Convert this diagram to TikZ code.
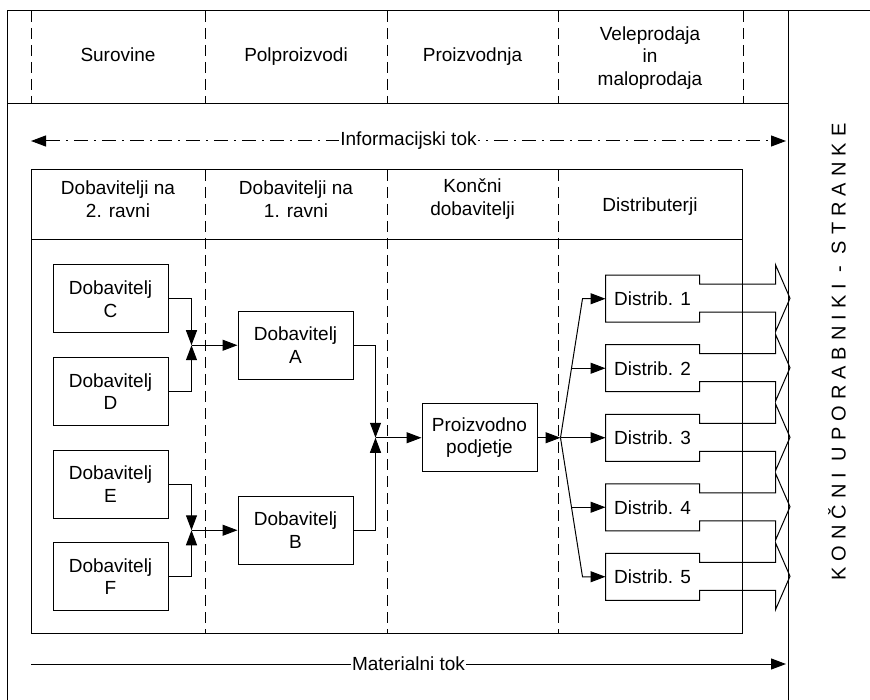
\documentclass[tikz,border=0pt]{standalone}
\usepackage{fontspec}
\setmainfont{Liberation Sans}
\newfontfamily\spacedfont[LetterSpace=30]{Liberation Sans}
\usetikzlibrary{arrows.meta,calc,positioning}

\begin{document}
\begin{tikzpicture}[x=1pt,y=-1pt,line width=1pt,node distance=92.5pt,
    >={Triangle[length=15pt,width=11pt]},
    font=\fontsize{19}{22.5}\selectfont,
    box/.style={draw,minimum width=115pt,minimum height=68pt,align=center,inner sep=2pt},
    dbox/.style={minimum width=93pt,minimum height=46pt,inner sep=2pt},
    oneline/.style={text height=14pt,text depth=4pt},
    divider/.style={dash pattern=on 11pt off 6pt},
    infoline/.style={dash pattern=on 14pt off 6pt on 2pt off 6pt}]

        \useasboundingbox (0,0) rectangle (870,700);

        \draw (7,700) -- (7,11) -- (870,11);
        \draw (788,11) -- (788,700);
        \draw (7,104) -- (788,104);
        \foreach \x in {31,205,387,558,743}
            \draw[divider] (\x,11) -- (\x,104);

        \node[oneline] (H1) at (118,57)   {Surovine};
        \node[oneline] (H2) at (296,57)   {Polproizvodi};
        \node[oneline] (H3) at (472.5,57) {Proizvodnja};
        \node[align=center] (H4) at (650,58) {Veleprodaja\\in\\maloprodaja};

        \coordinate (IL) at (31,141);
        \coordinate (IR) at (786,141);
        \draw[infoline,<->] (IL) -- node[fill=white,inner sep=1pt] (IT) {Informacijski tok} (IR);

        \draw (31,170) rectangle (742,633);
        \draw (31,240) -- (742,240);
        \foreach \x in {205,387,558}
            \draw[divider] (\x,170) -- (\x,633);

        \node[align=center] (K1) at (118,199)   {Dobavitelji na\\2. ravni};
        \node[align=center] (K2) at (296,199)   {Dobavitelji na\\1. ravni};
        \node[align=center] (K3) at (472.5,199) {Končni\\dobavitelji};
        \node[oneline] (K4) at (650,207) {Distributerji};

        \coordinate (ML) at (31,664);
        \coordinate (MR) at (786,664);
        \draw[->] (ML) -- node[fill=white,inner sep=1pt] (MT) {Materialni tok} (MR);

        \node[rotate=90,font=\spacedfont\fontsize{20}{22}\selectfont] (KU) at (837,352)
            {KONČNI UPORABNIKI - STRANKE};

        \node[box] (DC) at (110.5,299) {Dobavitelj\\C};
        \node[box] (DD) [below of=DC]   {Dobavitelj\\D};
        \node[box] (DE) [below of=DD]   {Dobavitelj\\E};
        \node[box] (DF) [below of=DE]   {Dobavitelj\\F};

        \coordinate (J1) at ($(DC.east)!.5!(DD.east)+(23,0)$);
        \coordinate (J2) at ($(DE.east)!.5!(DF.east)+(23,0)$);

        \node[box] (DA) [right=46pt of J1] {Dobavitelj\\A};
        \node[box] (DB) [right=46pt of J2] {Dobavitelj\\B};

        \coordinate (J3) at ($(DA.east)!.5!(DB.east)+(22,0)$);
        \node[box] (PP) [right=46pt of J3] {Proizvodno\\podjetje};
        \coordinate[right=23pt of PP] (SP);

        \node[dbox] (DS3) [right=45pt of SP] {Distrib. 3};
        \node[dbox] (DS2) [above of=DS3,node distance=69.5pt] {Distrib. 2};
        \node[dbox] (DS1) [above of=DS2,node distance=69.5pt] {Distrib. 1};
        \node[dbox] (DS4) [below of=DS3,node distance=69.5pt] {Distrib. 4};
        \node[dbox] (DS5) [below of=DS4,node distance=69.5pt] {Distrib. 5};

        \foreach \i in {1,...,5}
            \draw (DS\i.north west) -- (DS\i.north east) -- ++(0,9) -- ++(76,0)
                -- ++(0,-19.5) -- ++(14.5,33.5) -- ++(-14.5,33.5) -- ++(0,-19.5)
                -- ++(-76,0) -- (DS\i.south east) -- (DS\i.south west) -- cycle;

        \draw[->] (DC) -| (J1);
        \draw[->] (DD) -| (J1);
        \draw[->] (DE) -| (J2);
        \draw[->] (DF) -| (J2);
        \draw[->] (DA) -| (J3);
        \draw[->] (DB) -| (J3);

        \path[->] (J1) edge (DA)
                  (J2) edge (DB)
                  (J3) edge (PP)
                  (PP) edge (SP);

        \coordinate (F1) at ($(DS1.west)+(-23,0)$);
        \coordinate (F5) at ($(DS5.west)+(-23,0)$);
        \coordinate (F2) at ($(SP)!.5!(F1)$);
        \coordinate (F4) at ($(SP)!.5!(F5)$);

        \draw[->] (SP) -- (F1) -- (DS1);
        \draw[->] (SP) -- (F5) -- (DS5);
        \path[->] (F2) edge (DS2)
                  (SP) edge (DS3)
                  (F4) edge (DS4);
      \end{tikzpicture}
\end{document}
